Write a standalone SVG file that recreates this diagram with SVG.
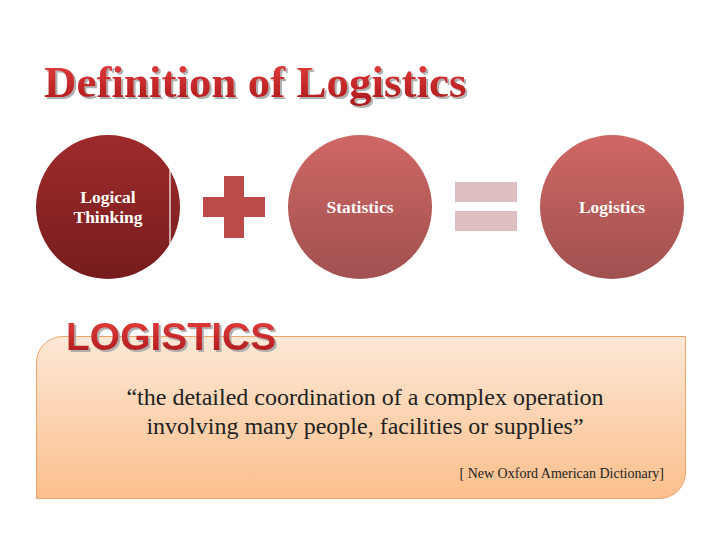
<svg xmlns="http://www.w3.org/2000/svg" width="720" height="540" viewBox="0 0 720 540">
<defs>
<linearGradient id="gTitle" x1="0" y1="0" x2="0" y2="1">
<stop offset="0" stop-color="#e8413f"/><stop offset="1" stop-color="#a8161a"/>
</linearGradient>
<linearGradient id="gDark" x1="0" y1="0" x2="0" y2="1">
<stop offset="0" stop-color="#9e2b2b"/><stop offset="1" stop-color="#761c1e"/>
</linearGradient>
<linearGradient id="gLight" x1="0" y1="0" x2="0" y2="1">
<stop offset="0" stop-color="#cf6765"/><stop offset="1" stop-color="#a05150"/>
</linearGradient>
<linearGradient id="gBox" x1="0" y1="0" x2="0" y2="1">
<stop offset="0" stop-color="#fde8d6"/><stop offset="1" stop-color="#fbbf8c"/>
</linearGradient>
<filter id="shadow" x="-5%" y="-20%" width="115%" height="150%">
<feDropShadow dx="2" dy="2" stdDeviation="0.6" flood-color="#a8a8a8" flood-opacity="0.9"/>
</filter>
<style>
.ct{font-family:"Liberation Serif",serif;font-weight:bold;font-size:17.5px;fill:#fff;text-anchor:middle}
.q{font-family:"Liberation Serif",serif;font-size:24px;fill:#222;text-anchor:middle}
</style>
</defs>
<rect width="720" height="540" fill="#fff"/>
<g id="title">
<text x="44" y="97" font-family="Liberation Serif,serif" font-weight="bold" font-size="45" fill="url(#gTitle)" filter="url(#shadow)">Definition of Logistics</text>
</g>
<g id="node-logical">
<circle cx="108" cy="207" r="72" fill="url(#gDark)"/>
<line x1="170" y1="170" x2="170" y2="244" stroke="#fff" stroke-width="1.2"/>
<text class="ct" x="108" y="203">Logical</text>
<text class="ct" x="108" y="223">Thinking</text>
</g>
<g id="plus" fill="#bb4a48">
<rect x="203" y="197" width="62" height="20"/>
<rect x="224" y="176" width="20" height="62"/>
</g>
<g id="node-statistics">
<circle cx="360" cy="207" r="72" fill="url(#gLight)"/>
<text class="ct" x="360" y="213">Statistics</text>
</g>
<g id="equals" fill="#dfc0c2">
<rect x="455" y="182" width="62" height="20"/>
<rect x="455" y="211" width="62" height="20"/>
</g>
<g id="node-logistics">
<circle cx="612" cy="207" r="72" fill="url(#gLight)"/>
<text class="ct" x="612" y="213">Logistics</text>
</g>
<g id="definition">
<path d="M36.5,498.5 V362 A26,26 0 0 1 62.5,336.5 H685.5 V472 A26,26 0 0 1 659.5,498.5 Z" fill="url(#gBox)" stroke="#eea56c" stroke-width="1"/>
<text x="66" y="350" font-family="Liberation Sans,sans-serif" font-weight="bold" font-size="39" fill="url(#gTitle)" filter="url(#shadow)">LOGISTICS</text>
<text class="q" x="365" y="405">“the detailed coordination of a complex operation</text>
<text class="q" x="365" y="434">involving many people, facilities or supplies”</text>
<text x="664" y="478" font-family="Liberation Serif,serif" font-size="14" fill="#222" text-anchor="end">[ New Oxford American Dictionary]</text>
</g>
</svg>
